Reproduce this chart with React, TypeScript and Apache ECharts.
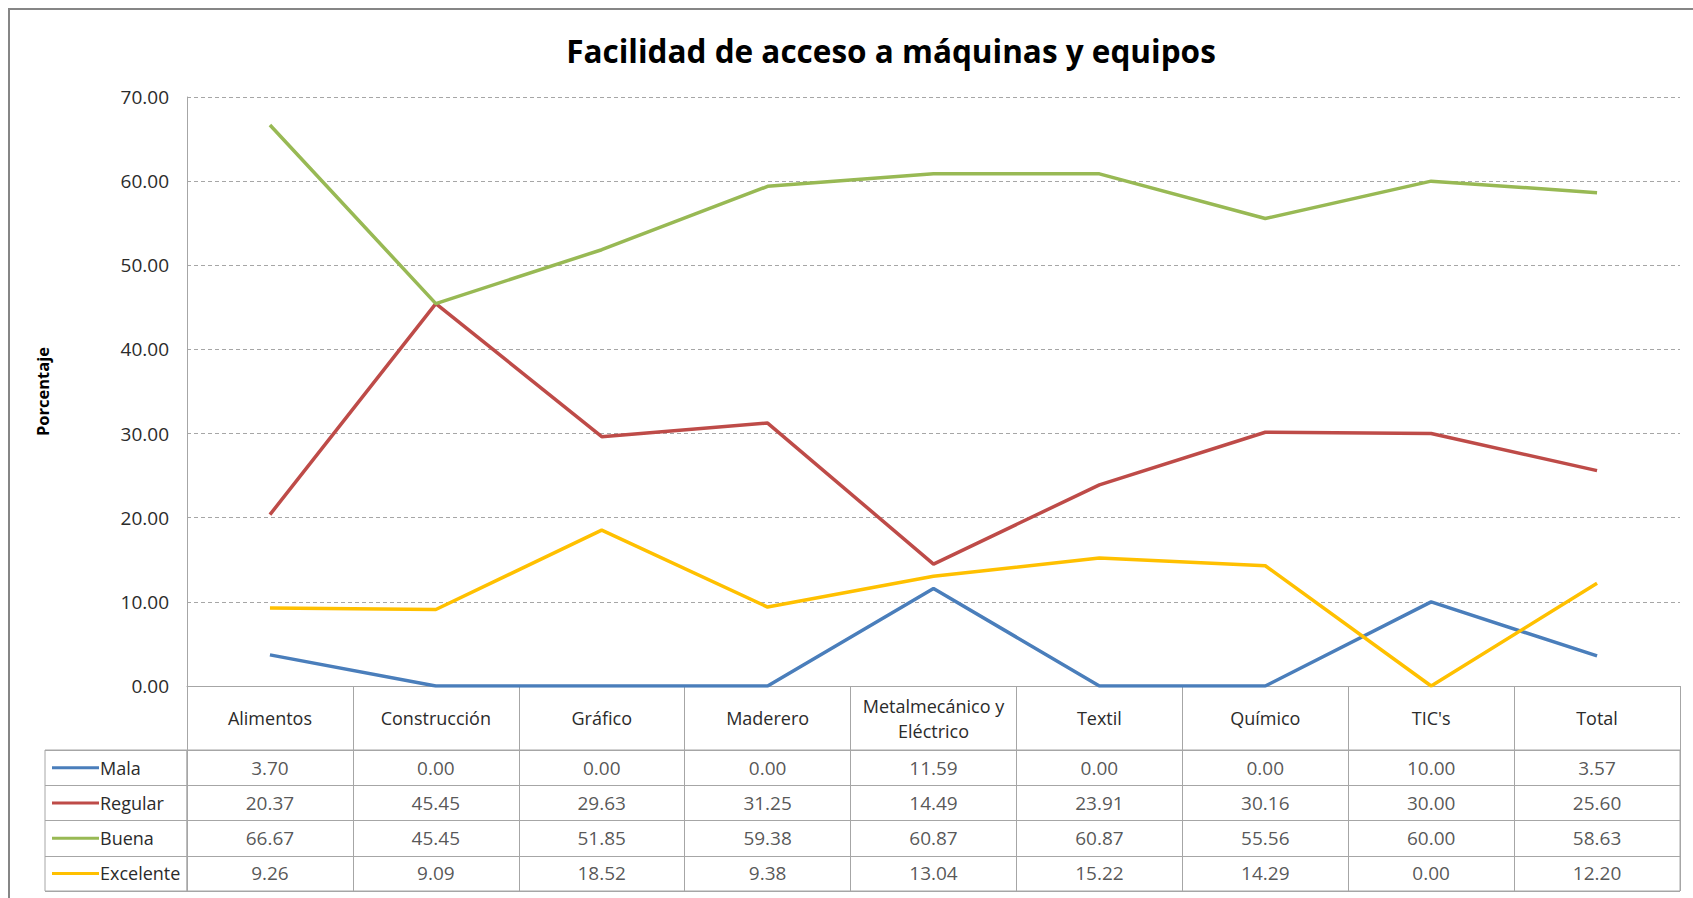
import React, { useEffect, useRef } from "react";
import * as echarts from "echarts";

const categories = ["Alimentos", "Construcción", "Gráfico", "Maderero", "Metalmecánico y\nEléctrico", "Textil", "Químico", "TIC's", "Total"];
const seriesNames = ["Mala", "Regular", "Buena", "Excelente"];
const mala = [3.70, 0.00, 0.00, 0.00, 11.59, 0.00, 0.00, 10.00, 3.57];
const regular = [20.37, 45.45, 29.63, 31.25, 14.49, 23.91, 30.16, 30.00, 25.60];
const buena = [66.67, 45.45, 51.85, 59.38, 60.87, 60.87, 55.56, 60.00, 58.63];
const excelente = [9.26, 9.09, 18.52, 9.38, 13.04, 15.22, 14.29, 0.00, 12.20];
const colors = ["#4A7EBB", "#BE4B48", "#98B954", "#FFC000"];
const yTicks = { min: 0, max: 70, interval: 10 };
const title = "Facilidad de acceso a máquinas y equipos";
const yName = "Porcentaje";

const FONT = "'Open Sans', 'Noto Sans', sans-serif";
const GRID_GRAY = "#a6a6a6";
const TEXT = "#2b2b2b";

export default function App() {
  const ref = useRef<HTMLDivElement>(null);
  useEffect(() => {
    document.body.style.margin = "0";
    const chart = echarts.init(ref.current!, null, { renderer: "svg" });
    const all = [mala, regular, buena, excelente];
    const cellData: any[] = [];
    all.forEach((row, r) => row.forEach((v, c) => cellData.push([c, r, v])));
    const rich: any = { t: { fontSize: 18, color: TEXT, fontFamily: FONT, padding: [0, 0, 0, 1] } };
    colors.forEach((c, i) => {
      rich["l" + i] = { width: 47, height: 3, backgroundColor: c };
    });
    chart.setOption({
      animation: false,
      backgroundColor: "#ffffff",
      textStyle: { fontFamily: FONT },
      graphic: [
        { type: "rect", shape: { x: 9, y: 9, width: 1720, height: 930 }, style: { fill: "none", stroke: "#868686", lineWidth: 2 }, silent: true },
        { type: "text", x: 891, y: 50, style: { text: title, fontSize: 31.5, fontWeight: "bold", fontFamily: FONT, fill: "#000", textAlign: "center", textVerticalAlign: "middle" } },
        { type: "rect", shape: { x: 45, y: 750, width: 142, height: 141 }, style: { fill: "none", stroke: GRID_GRAY, lineWidth: 1 }, silent: true },
      ],
      grid: [
        { left: 187, right: 13, top: 97, height: 589 },
        { left: 187, right: 13, top: 750, height: 141, show: true, borderColor: GRID_GRAY, borderWidth: 1 },
      ],
      xAxis: [
        {
          type: "category", gridIndex: 0, data: categories, boundaryGap: true,
          axisLine: { show: true, lineStyle: { color: GRID_GRAY, width: 1 } },
          axisTick: { show: true, length: 64, alignWithLabel: false, lineStyle: { color: GRID_GRAY } },
          axisLabel: { interval: 0, margin: 32, verticalAlign: "middle", fontSize: 18, lineHeight: 25, color: TEXT, fontFamily: FONT, align: "center" },
          splitLine: { show: false },
        },
        {
          type: "category", gridIndex: 1, data: categories, boundaryGap: true,
          axisLine: { show: false }, axisTick: { show: false }, axisLabel: { show: false },
          splitLine: { show: true, interval: 0, lineStyle: { color: GRID_GRAY, width: 1 } },
        },
      ],
      yAxis: [
        {
          type: "value", gridIndex: 0, min: yTicks.min, max: yTicks.max, interval: yTicks.interval,
          name: yName, nameLocation: "middle", nameRotate: 90, nameGap: 136,
          nameTextStyle: { fontSize: 16.5, fontWeight: "bold", color: "#000", fontFamily: FONT },
          axisLine: { show: true, lineStyle: { color: GRID_GRAY, width: 1 } },
          axisTick: { show: false },
          axisLabel: { margin: 18, fontSize: 19, color: TEXT, fontFamily: FONT, formatter: (v: number) => v.toFixed(2) },
          splitLine: { show: true, lineStyle: { color: GRID_GRAY, type: [4, 3], width: 1 } },
        },
        {
          type: "category", gridIndex: 1, data: seriesNames, inverse: true, boundaryGap: true,
          axisLine: { show: true, lineStyle: { color: GRID_GRAY, width: 1 } },
          axisTick: { show: true, length: 142, alignWithLabel: false, lineStyle: { color: GRID_GRAY } },
          axisLabel: {
            margin: 135, align: "left", verticalAlign: "middle", interval: 0,
            formatter: (v: string, i: number) => `{l${i}|}{t|${v}}`,
            rich,
          },
          splitLine: { show: true, interval: 0, lineStyle: { color: GRID_GRAY, width: 1 } },
        },
      ],
      series: [
        ...all.map((d, i) => ({
          name: seriesNames[i], type: "line", xAxisIndex: 0, yAxisIndex: 0, data: d,
          symbol: "none", lineStyle: { color: colors[i], width: 3.5 }, itemStyle: { color: colors[i] },
          silent: true, z: 3 + i,
        })),
        {
          type: "scatter", xAxisIndex: 1, yAxisIndex: 1, data: cellData, symbolSize: 1,
          itemStyle: { color: "rgba(0,0,0,0)" }, silent: true,
          label: { show: true, position: "inside", fontSize: 19, color: TEXT, fontFamily: FONT, formatter: (p: any) => p.value[2].toFixed(2) },
        },
      ],
    });
    return () => chart.dispose();
  }, []);
  return <div ref={ref} style={{ width: 1693, height: 898, position: "absolute", left: 0, top: 0 }} />;
}
